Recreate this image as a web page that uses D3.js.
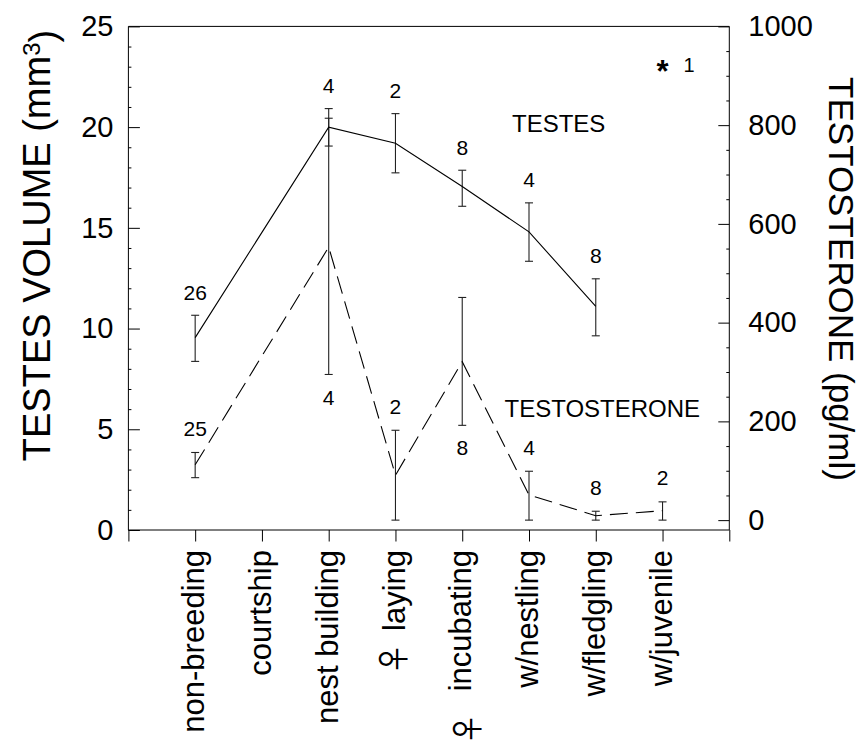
<!DOCTYPE html>
<html>
<head>
<meta charset="utf-8">
<script src="https://cdn.jsdelivr.net/npm/d3@7"></script>
<style>
  body { margin: 0; background: #fff; }
  svg { display: block; }
  text { font-family: "Liberation Sans", Arial, Helvetica, sans-serif; fill: #000; }
</style>
</head>
<body>
<svg id="chart" width="861" height="745"></svg>
<script>
// Breeding stages along the x axis
const stages = ["non-breeding", "courtship", "nest building", "laying", "incubating", "w/nestling", "w/fledgling", "w/juvenile"];

// Testes volume (mm3): mean, error-bar limits and sample size per stage
const testesStages = ["non-breeding", "nest building", "laying", "incubating", "w/nestling", "w/fledgling"];
const testesMean = [9.55, 20.0, 19.2, 17.05, 14.8, 11.1];
const testesLow  = [8.37, 19.06, 17.73, 16.07, 13.34, 9.64];
const testesHigh = [10.66, 20.92, 20.67, 17.86, 16.24, 12.47];
const testesN    = [26, 4, 2, 8, 4, 8];

// Single w/juvenile testes sample
const juvenileTestes = 23.1;
const juvenileN = 1;

// Plasma testosterone (pg/ml): mean, error-bar limits and sample size per stage
const tStages = ["non-breeding", "nest building", "laying", "incubating", "w/nestling", "w/fledgling", "w/juvenile"];
const tMean = [112, 553, 91, 321, 51, 9, 19];
const tLow  = [86, 295, 0, 192, 0, 0, 0];
const tHigh = [137, 814, 182, 451, 99, 18, 37];
const tN    = [25, 4, 2, 8, 4, 8, 2];
const tNSide = ["above", "below", "above", "below", "above", "above", "above"];

// Stages where the sampled birds were female
const femaleStages = ["laying", "incubating"];

// Axis ticks
const leftTicks  = [0, 5, 10, 15, 20, 25];
const rightTicks = [0, 200, 400, 600, 800, 1000];

// ---- layout ----
const svg = d3.select("#chart");
const plot = { left: 128.4, right: 729.3, top: 26.4, bottom: 530 };

const x  = d3.scaleLinear().domain([0, 9]).range([plot.left, plot.right]);
const xs = s => x(stages.indexOf(s) + 1);
const yL = d3.scaleLinear().domain([0, 25]).range([plot.bottom, plot.top]);
const yR = d3.scaleLinear().domain([-20, 1000]).range([plot.bottom, plot.top]);

const tickFont = 29;

function styleAxis(g) {
  g.attr("font-family", null).attr("font-size", null);
  g.selectAll(".domain").remove();
  g.selectAll("line").attr("stroke", "#000").attr("stroke-width", 1);
  g.selectAll("text").style("font-size", tickFont + "px").attr("fill", "#000");
}

// left axis: major and minor ticks pointing inward
svg.append("g")
  .attr("transform", `translate(${plot.left},0)`)
  .call(d3.axisLeft(yL).tickValues(d3.range(0, 26).filter(v => v % 5)).tickSize(-3).tickFormat(""))
  .call(styleAxis);
svg.append("g")
  .attr("transform", `translate(${plot.left},0)`)
  .call(d3.axisLeft(yL).tickValues(leftTicks).tickSize(-11.5).tickPadding(15).tickFormat(d3.format("d")))
  .call(styleAxis);

// right axis
svg.append("g")
  .attr("transform", `translate(${plot.right},0)`)
  .call(d3.axisRight(yR).tickValues(d3.range(50, 1000, 50).filter(v => v % 200)).tickSize(-3).tickFormat(""))
  .call(styleAxis);
svg.append("g")
  .attr("transform", `translate(${plot.right},0)`)
  .call(d3.axisRight(yR).tickValues(rightTicks).tickSize(-11).tickPadding(19).tickFormat(d3.format("d")))
  .call(styleAxis);

// bottom axis with rotated stage names
const xAxis = svg.append("g")
  .attr("transform", `translate(0,${plot.bottom})`)
  .call(d3.axisBottom(x).tickValues(d3.range(0, 10)).tickSize(11.5).tickFormat(i => stages[i - 1] || ""))
  .call(styleAxis);
xAxis.selectAll("text")
  .style("font-size", "31px")
  .attr("text-anchor", "end")
  .attr("transform", "rotate(-90)")
  .attr("x", -20)
  .attr("y", 0)
  .attr("dy", "0.28em");

// frame
const frame = svg.append("g").attr("stroke", "#000").attr("stroke-width", 1).attr("fill", "none");
frame.append("line").attr("x1", plot.left).attr("x2", plot.right).attr("y1", plot.top).attr("y2", plot.top);
frame.append("line").attr("x1", plot.left).attr("x2", plot.right).attr("y1", plot.bottom).attr("y2", plot.bottom);
frame.append("line").attr("x1", plot.left).attr("x2", plot.left).attr("y1", plot.top).attr("y2", plot.bottom);
frame.append("line").attr("x1", plot.right).attr("x2", plot.right).attr("y1", plot.top).attr("y2", plot.bottom);

// female markers under the stage names (drawn sideways like the labels)
const femaleOffset = { "laying": [-3, 659], "incubating": [5, 729] };
svg.append("g").selectAll("text")
  .data(femaleStages)
  .join("text")
  .attr("transform", d => `translate(${xs(d) + femaleOffset[d][0]},${femaleOffset[d][1]}) rotate(-90)`)
  .attr("text-anchor", "middle")
  .attr("dy", "0.38em")
  .style("font-family", '"Noto Sans CJK SC", "DejaVu Sans", sans-serif')
  .style("font-size", "32px")
  .attr("fill", "#444")
  .text("\u2640");

// ---- series ----
const testes = testesStages.map((s, i) => ({ s, m: testesMean[i], lo: testesLow[i], hi: testesHigh[i], n: testesN[i] }));
const tes = tStages.map((s, i) => ({ s, m: tMean[i], lo: tLow[i], hi: tHigh[i], n: tN[i], side: tNSide[i] }));

function errorBars(data, y) {
  const g = svg.append("g").attr("stroke", "#222").attr("stroke-width", 1.1);
  g.selectAll("line.v").data(data).join("line").attr("class", "v")
    .attr("x1", d => xs(d.s)).attr("x2", d => xs(d.s))
    .attr("y1", d => y(d.lo)).attr("y2", d => y(d.hi));
  g.selectAll("line.lo").data(data).join("line").attr("class", "lo")
    .attr("x1", d => xs(d.s) - 4).attr("x2", d => xs(d.s) + 4)
    .attr("y1", d => y(d.lo)).attr("y2", d => y(d.lo));
  g.selectAll("line.hi").data(data).join("line").attr("class", "hi")
    .attr("x1", d => xs(d.s) - 4).attr("x2", d => xs(d.s) + 4)
    .attr("y1", d => y(d.hi)).attr("y2", d => y(d.hi));
}

errorBars(testes, yL);
errorBars(tes, yR);

svg.append("path")
  .datum(testes)
  .attr("fill", "none").attr("stroke", "#000").attr("stroke-width", 1.1)
  .attr("d", d3.line().x(d => xs(d.s)).y(d => yL(d.m)));

svg.append("path")
  .datum(tes)
  .attr("fill", "none").attr("stroke", "#000").attr("stroke-width", 1.1)
  .attr("stroke-dasharray", "18,8")
  .attr("d", d3.line().x(d => xs(d.s)).y(d => yR(d.m)));

// sample sizes
const nFont = 21;
svg.append("g").selectAll("text")
  .data(testes).join("text")
  .attr("x", d => xs(d.s))
  .attr("y", d => yL(d.hi) - 23)
  .attr("dy", "0.36em")
  .attr("text-anchor", "middle")
  .style("font-size", nFont + "px")
  .text(d => d.n);

svg.append("g").selectAll("text")
  .data(tes).join("text")
  .attr("x", d => xs(d.s))
  .attr("y", d => d.side === "above" ? yR(d.hi) - 24 : yR(d.lo) + 22.5)
  .attr("dy", "0.36em")
  .attr("text-anchor", "middle")
  .style("font-size", nFont + "px")
  .text(d => d.n);

// single juvenile testes value
svg.append("text")
  .attr("x", xs("w/juvenile"))
  .attr("y", yL(juvenileTestes))
  .attr("dy", "0.56em")
  .attr("text-anchor", "middle")
  .style("font-size", "31px").style("font-weight", "bold")
  .text("*");
svg.append("text")
  .attr("x", xs("w/juvenile") + 21)
  .attr("y", yL(juvenileTestes))
  .attr("dy", "0.36em")
  .style("font-size", "20px")
  .text(juvenileN);

// series names
svg.append("text").attr("x", 512).attr("y", 131.5).style("font-size", "24px").text("TESTES");
svg.append("text").attr("x", 504.5).attr("y", 417).style("font-size", "24px").text("TESTOSTERONE");

// axis titles
const leftTitle = svg.append("text")
  .attr("transform", "translate(50,245.5) rotate(-90)")
  .attr("text-anchor", "middle")
  .style("font-size", "38px");
leftTitle.append("tspan").text("TESTES VOLUME (mm");
leftTitle.append("tspan").attr("dy", "-0.42em").style("font-size", "24px").text("3");
leftTitle.append("tspan").attr("dy", "0.42em").text(")");

svg.append("text")
  .attr("transform", "translate(829,279) rotate(90)")
  .attr("text-anchor", "middle")
  .style("font-size", "35px")
  .text("TESTOSTERONE (pg/ml)");
</script>
</body>
</html>
